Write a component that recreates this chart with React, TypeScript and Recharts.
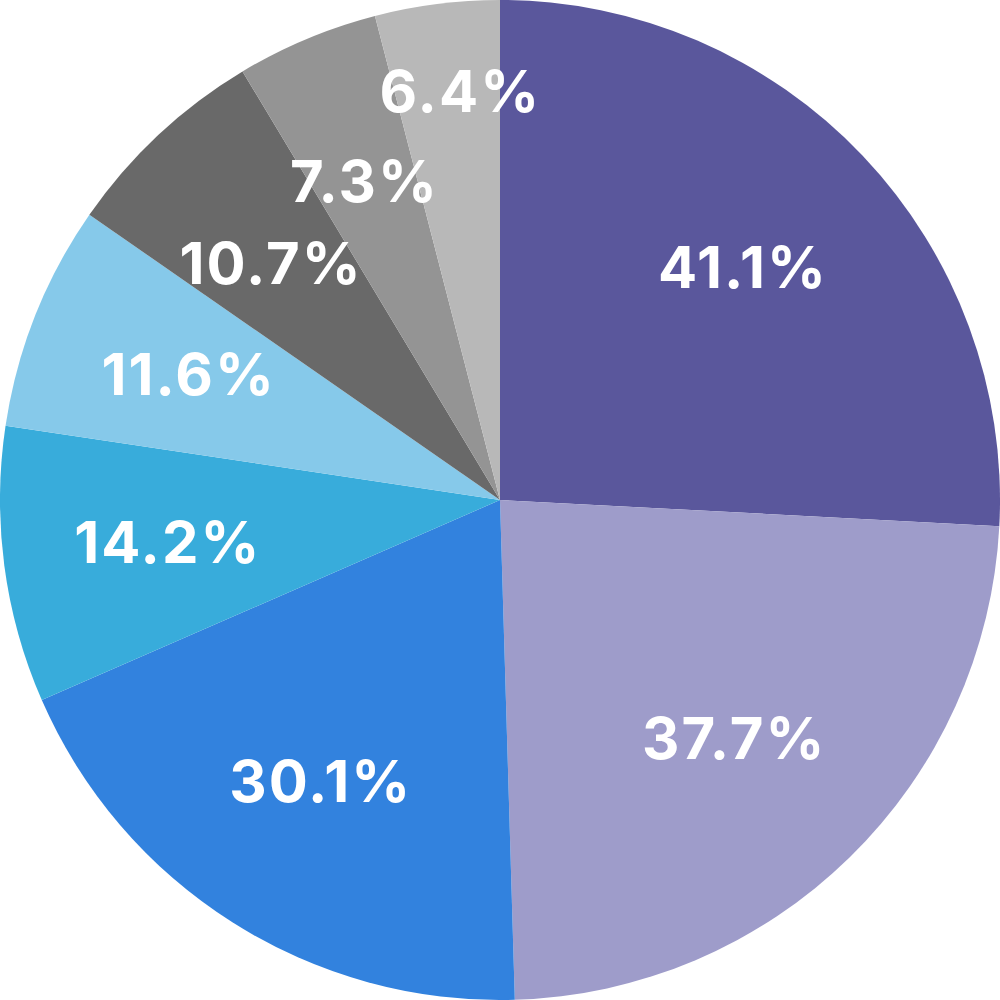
import React from "react";
import { PieChart, Pie, Cell } from "recharts";

const SEGMENTS = ["A", "B", "C", "D", "E", "F", "G", "H"];
const VALUES = [41.1, 37.7, 30.1, 14.2, 11.6, 10.7, 7.3, 6.4];
const COLORS = [
  "#5a579c",
  "#9e9cca",
  "#3282de",
  "#38acdb",
  "#86c9ea",
  "#696969",
  "#949494",
  "#b8b8b8",
];

const data = SEGMENTS.map((name, i) => ({ name, value: VALUES[i] }));

const RADIAN = Math.PI / 180;

// hand nudges for the crowded labels in the small slices
const LABEL_NUDGE: Record<number, [number, number]> = {
  5: [0, 10],
  6: [-6, -8],
  7: [12, 0],
};

const renderLabel = (props: any) => {
  const { cx, cy, midAngle, index, value } = props;
  // the smallest slice has its label pushed further out
  const r = index === VALUES.length - 1 ? 410 : 335;
  const [nx, ny] = LABEL_NUDGE[index] || [0, 0];
  const x = cx + r * Math.cos(-midAngle * RADIAN) + nx;
  const y = cy + r * Math.sin(-midAngle * RADIAN) + ny - 2;
  return (
    <text
      x={x}
      y={y}
      fill="#ffffff"
      textAnchor="middle"
      dominantBaseline="central"
      fontFamily="Inter, sans-serif"
      fontWeight={700}
      fontSize={58}
      letterSpacing={2}
    >
      {`${value.toFixed(1)}%`}
    </text>
  );
};

export default function App() {
  return (
    <div style={{ position: "absolute", left: 0, top: 0, width: 1000, height: 1000, background: "#fff" }}>
      <PieChart width={1000} height={1000} margin={{ top: 0, right: 0, bottom: 0, left: 0 }}>
        <Pie
          data={data}
          dataKey="value"
          cx={500}
          cy={500}
          outerRadius={500}
          startAngle={90}
          endAngle={-270}
          stroke="none"
          labelLine={false}
          label={renderLabel}
          isAnimationActive={false}
        >
          {data.map((d, i) => (
            <Cell key={d.name} fill={COLORS[i]} />
          ))}
        </Pie>
      </PieChart>
    </div>
  );
}
